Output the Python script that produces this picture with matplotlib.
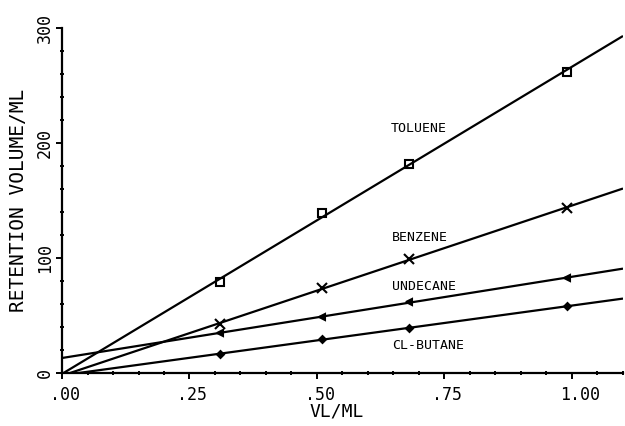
import numpy as np
import matplotlib
matplotlib.use('Agg')
from matplotlib import pyplot as plt
from matplotlib.ticker import MultipleLocator
from matplotlib.transforms import ScaledTranslation

plt.rcParams['font.family'] = 'DejaVu Sans Mono'

# loading ratio VL/ML and measured retention volumes
vl_ml = [0.31, 0.51, 0.68, 0.99]
toluene = [79, 139, 182, 262]
benzene = [42.6, 74, 99, 143.5]
undecane = [34.8, 48.7, 62, 82.6]
cl_butane = [16.5, 29.6, 39, 58]

series = [
    ('TOLUENE', toluene, 's', 6, 'none', (0.645, 213)),
    ('BENZENE', benzene, 'x', 7, 'k', (0.647, 118)),
    ('UNDECANE', undecane, '<', 4.5, 'k', (0.647, 75)),
    ('CL-BUTANE', cl_butane, 'D', 3.5, 'k', (0.647, 24)),
]

fig = plt.figure(figsize=(6.25, 4.26), dpi=100)
ax = fig.add_axes([0.0992, 0.1244, 0.8976, 0.8099])

x_fit = np.array([0.0, 1.1])
for name, vals, marker, ms, mfc, (tx, ty) in series:
    slope, icpt = np.polyfit(vl_ml, vals, 1)
    ax.plot(x_fit, icpt + slope * x_fit, color='k', lw=1.6, solid_capstyle='butt')
    ax.plot(vl_ml, vals, linestyle='none', marker=marker, ms=ms, mfc=mfc,
            mec='k', mew=1.5, color='k')
    ax.text(tx, ty, name, fontsize=9.5, va='center', ha='left')

ax.set_xlim(0, 1.1)
ax.set_ylim(0, 300)
for s in ('top', 'right'):
    ax.spines[s].set_visible(False)
for s in ('left', 'bottom'):
    ax.spines[s].set_linewidth(1.6)

ax.set_xticks([0, 0.25, 0.5, 0.75, 1.0])
ax.set_xticklabels(['.00', '.25', '.50', '.75', '1.00'], fontsize=12)
ax.xaxis.set_minor_locator(MultipleLocator(0.05))
ax.set_yticks([0, 100, 200, 300])
ax.set_yticklabels(['0', '100', '200', '300'], fontsize=12,
                   rotation=90, va='center')
ax.yaxis.set_minor_locator(MultipleLocator(20))

ax.tick_params(which='major', direction='out', length=4, width=1.4, pad=5)
ax.tick_params(axis='y', which='major', pad=2)
ax.tick_params(which='minor', direction='inout', length=3, width=1.4)

for lbl in ax.get_xticklabels():
    lbl.set_horizontalalignment('left')
    lbl.set_transform(lbl.get_transform() + ScaledTranslation(-0.12, 0, fig.dpi_scale_trans))

ax.set_xlabel('VL/ML', fontsize=13, va='top')
ax.xaxis.set_label_coords(0.49, -0.085)
ax.set_ylabel('RETENTION VOLUME/ML', fontsize=14)
ax.yaxis.set_label_coords(-0.0606, 0.5)

fig.savefig('out.png', dpi=100)
